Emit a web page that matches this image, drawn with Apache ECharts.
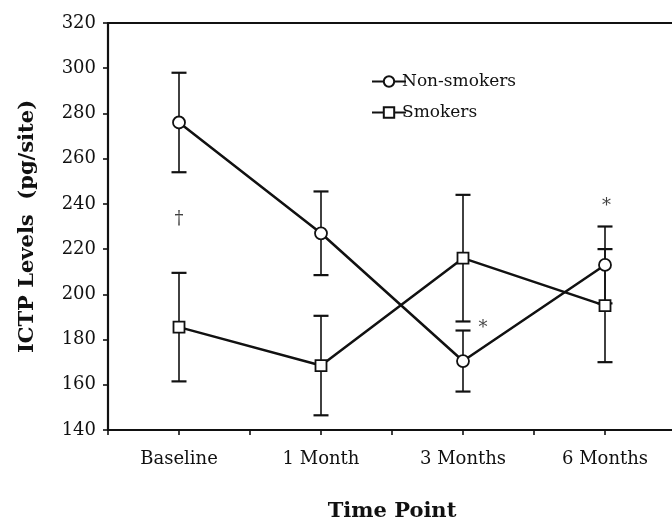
<!DOCTYPE html>
<html>
<head>
<meta charset="utf-8">
<script src="https://cdn.jsdelivr.net/npm/echarts@6/dist/echarts.min.js"></script>
<style>
html,body{margin:0;padding:0;background:#fff;}
#chart{width:672px;height:522px;}
</style>
</head>
<body>
<div id="chart"></div>
<script>
var categories = ['Baseline', '1 Month', '3 Months', '6 Months'];
var nonSmokers = [276, 227, 170.5, 213];
var nonSmokersErr = [22, 18.5, 13.5, 17];
var smokers = [185.5, 168.5, 216, 195];
var smokersErr = [24, 22, 28, 25];
var yTicks = [140, 160, 180, 200, 220, 240, 260, 280, 300, 320];
var annotX = [0, 2.14, 3.01];
var annotY = [233, 185, 239];
var annotText = ['\u2020', '*', '*'];

var ink = '#111111';
var font = 'DejaVu Serif';

function pts(vals) { return vals.map(function (v, i) { return [i, v]; }); }
function errs(vals, e) { return vals.map(function (v, i) { return [i, v - e[i], v + e[i]]; }); }

function errRender(params, api) {
  var x = api.value(0);
  var lo = api.coord([x, api.value(1)]);
  var hi = api.coord([x, api.value(2)]);
  var hw = 7.5;
  return {
    type: 'group',
    children: [
      { type: 'line', shape: { x1: lo[0], y1: lo[1], x2: hi[0], y2: hi[1] }, style: { stroke: ink, lineWidth: 1.6 } },
      { type: 'line', shape: { x1: lo[0] - hw, y1: lo[1], x2: lo[0] + hw, y2: lo[1] }, style: { stroke: ink, lineWidth: 2.2 } },
      { type: 'line', shape: { x1: hi[0] - hw, y1: hi[1], x2: hi[0] + hw, y2: hi[1] }, style: { stroke: ink, lineWidth: 2.2 } }
    ]
  };
}

var chart = echarts.init(document.getElementById('chart'), null, { renderer: 'canvas' });
chart.setOption({
  backgroundColor: '#ffffff',
  animation: false,
  grid: { left: 108, right: -4, top: 23, bottom: 92, containLabel: false, outerBoundsMode: 'none' },
  legend: {
    data: ['Non-smokers', 'Smokers'],
    orient: 'vertical',
    left: 366,
    top: 68,
    itemWidth: 34,
    itemHeight: 13,
    itemGap: 14,
    textStyle: { fontFamily: font, fontSize: 17, color: ink, padding: [0, 0, 0, -9] }
  },
  xAxis: [{
    type: 'value',
    min: -0.5,
    max: 3.5,
    interval: 0.5,
    splitLine: { show: false },
    axisLine: { onZero: false, lineStyle: { color: ink, width: 2.2 } },
    axisTick: { show: true, length: 5, lineStyle: { color: ink, width: 1.6 } },
    axisLabel: {
      fontFamily: font, fontSize: 18, color: ink, margin: 20,
      showMinLabel: true, showMaxLabel: true,
      formatter: function (v) {
        return (Math.abs(v - Math.round(v)) < 1e-6 && categories[Math.round(v)]) ? categories[Math.round(v)] : '';
      }
    },
    name: 'Time Point',
    nameLocation: 'middle',
    nameGap: 71,
    nameTextStyle: { fontFamily: font, fontSize: 21, fontWeight: 'bold', color: ink }
  }, {
    type: 'value',
    position: 'top',
    min: -0.5,
    max: 3.5,
    axisLine: { show: true, onZero: false, lineStyle: { color: ink, width: 2.2 } },
    axisTick: { show: false },
    axisLabel: { show: false },
    splitLine: { show: false }
  }],
  yAxis: {
    type: 'value',
    min: yTicks[0],
    max: yTicks[yTicks.length - 1],
    interval: 20,
    splitLine: { show: false },
    axisLine: { show: true, onZero: false, lineStyle: { color: ink, width: 2.2 } },
    axisTick: { show: true, length: 5, lineStyle: { color: ink, width: 1.6 } },
    axisLabel: { fontFamily: font, fontSize: 18, color: ink, margin: 12 },
    name: 'ICTP Levels  (pg/site)',
    nameLocation: 'middle',
    nameGap: 70,
    nameTextStyle: { fontFamily: font, fontSize: 21, fontWeight: 'bold', color: ink }
  },
  series: [
    {
      type: 'custom', name: 'errNS', renderItem: errRender, data: errs(nonSmokers, nonSmokersErr), z: 1, silent: true
    },
    {
      type: 'custom', name: 'errS', renderItem: errRender, data: errs(smokers, smokersErr), z: 1, silent: true
    },
    {
      type: 'line', name: 'Non-smokers', data: pts(nonSmokers), z: 3,
      symbol: 'circle', symbolSize: 12,
      lineStyle: { color: ink, width: 2.5 },
      itemStyle: { color: '#ffffff', borderColor: ink, borderWidth: 1.8 }
    },
    {
      type: 'line', name: 'Smokers', data: pts(smokers), z: 3,
      symbol: 'rect', symbolSize: 11,
      lineStyle: { color: ink, width: 2.5 },
      itemStyle: { color: '#ffffff', borderColor: ink, borderWidth: 1.8 }
    },
    {
      type: 'scatter', name: 'annot', silent: true, z: 5,
      data: annotX.map(function (x, i) { return [x, annotY[i]]; }),
      symbolSize: 2,
      itemStyle: { color: 'rgba(0,0,0,0)' },
      label: {
        show: true, position: 'inside',
        fontFamily: font, fontSize: 18, color: ink,
        formatter: function (p) { return annotText[p.dataIndex]; }
      }
    }
  ]
});
</script>
</body>
</html>
